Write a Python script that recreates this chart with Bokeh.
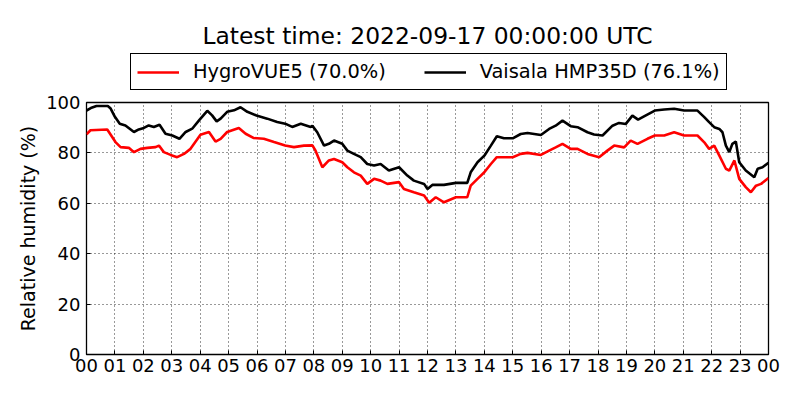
from bokeh.plotting import figure
from bokeh.layouts import column
from bokeh.models import Range1d, FixedTicker, Legend, LegendItem, Label
from bokeh.embed import file_html
from bokeh.resources import INLINE

# ---- data (hours since 2022-09-16 00:00 UTC, relative humidity %) ----
hmp_hours = [0.0, 0.15, 0.35, 0.75, 0.85, 1.0, 1.17, 1.37, 1.67, 1.84, 2.02,
             2.19, 2.37, 2.57, 2.78, 3.02, 3.27, 3.49, 3.72, 3.96, 4.25,
             4.42, 4.58, 4.72, 4.95, 5.19, 5.42, 5.66, 6.01, 6.36, 6.71,
             6.99, 7.24, 7.54, 7.89, 7.95, 8.12, 8.36, 8.53, 8.71, 9.0,
             9.18, 9.41, 9.65, 9.88, 10.12, 10.35, 10.64, 11.0, 11.29,
             11.52, 11.88, 12.0, 12.17, 12.58, 13.0, 13.40, 13.52, 13.76,
             14.0, 14.23, 14.44, 14.69, 15.0, 15.28, 15.52, 15.99, 16.28,
             16.51, 16.75, 17.04, 17.28, 17.63, 17.86, 18.16, 18.51, 18.74,
             18.98, 19.21, 19.41, 19.62, 20.0, 20.33, 20.68, 21.03, 21.5,
             21.74, 21.91, 22.09, 22.27, 22.38, 22.5, 22.62, 22.73, 22.85,
             22.97, 23.2, 23.5, 23.62, 23.79, 24.0]
hmp_rh = [96.8, 97.8, 98.6, 98.6, 97.6, 94.3, 91.6, 90.9, 88.3, 89.3, 89.9,
          90.9, 90.3, 91.2, 87.6, 86.9, 85.6, 88.3, 89.6, 92.9, 96.7,
          94.9, 92.5, 93.6, 96.3, 96.9, 98.1, 96.3, 94.7, 93.6, 92.3,
          91.6, 90.3, 91.6, 90.3, 90.8, 88.2, 82.9, 83.6, 84.9, 83.6,
          80.9, 79.6, 78.3, 75.6, 75.0, 75.6, 73.0, 74.3, 71.0,
          69.0, 67.7, 65.7, 67.3, 67.3, 68.1, 68.1, 72.3, 76.3,
          78.9, 82.9, 86.6, 85.8, 85.8, 87.5, 87.9, 87.1, 89.5,
          90.8, 92.8, 90.6, 90.2, 88.2, 87.3, 86.9, 90.8, 91.9,
          91.5, 94.8, 93.2, 94.5, 96.8, 97.2, 97.5, 96.8, 96.8,
          94.2, 92.2, 90.2, 89.5, 88.2, 82.9, 80.3, 83.6, 84.5,
          76.3, 73.0, 70.3, 73.7, 74.3, 76.1]

hv_hours = [0.0, 0.14, 0.73, 1.02, 1.2, 1.49, 1.67, 1.9, 2.14, 2.43, 2.55,
            2.72, 2.96, 3.19, 3.43, 3.66, 4.01, 4.31, 4.54, 4.72, 4.95,
            5.36, 5.6, 5.89, 6.24, 6.6, 6.99, 7.3, 7.65, 7.95, 8.06, 8.3,
            8.53, 8.71, 9.0, 9.18, 9.41, 9.65, 9.88, 10.12, 10.35, 10.59,
            11.0, 11.17, 11.52, 11.88, 12.06, 12.29, 12.58, 13.0, 13.4,
            13.52, 13.76, 14.0, 14.23, 14.44, 14.69, 15.0, 15.28, 15.52,
            15.99, 16.28, 16.51, 16.75, 17.04, 17.28, 17.63, 18.04, 18.33,
            18.57, 18.92, 19.15, 19.39, 19.74, 20.0, 20.33, 20.68, 21.03,
            21.5, 21.74, 21.91, 22.09, 22.27, 22.5, 22.62, 22.8, 22.97,
            23.2, 23.38, 23.56, 23.74, 24.0]
hv_rh = [87.4, 89.0, 89.3, 84.3, 82.3, 82.0, 80.3, 81.6, 82.0, 82.3, 82.9,
         80.3, 79.2, 78.3, 79.6, 81.6, 87.2, 88.3, 84.5, 85.6, 88.3,
         89.9, 87.6, 85.9, 85.6, 84.3, 82.9, 82.3, 82.9, 83.0, 80.9, 74.3,
         77.0, 77.6, 76.3, 74.3, 72.3, 71.0, 67.7, 69.7, 69.0, 67.7,
         68.4, 65.7, 64.4, 63.1, 60.2, 62.4, 60.4, 62.4, 62.4,
         67.0, 69.7, 72.3, 75.6, 78.3, 78.3, 78.3, 79.6, 80.0,
         79.2, 80.9, 82.2, 83.6, 81.6, 81.6, 79.6, 78.3, 80.9,
         82.9, 82.2, 84.9, 83.6, 85.6, 86.9, 86.9, 88.2, 86.9,
         86.9, 84.2, 81.6, 82.9, 78.9, 73.7, 73.0, 77.0, 69.7,
         66.4, 64.4, 67.0, 67.7, 70.0]

hour_ticks = list(range(0, 25))
hour_labels = ["%02d" % (h % 24) for h in hour_ticks]
rh_ticks = [0, 20, 40, 60, 80, 100]

title_text = "Latest time: 2022-09-17 00:00:00 UTC"
hv_name = "HygroVUE5 (%.1f%%)" % hv_rh[-1]
hmp_name = "Vaisala HMP35D (%.1f%%)" % hmp_rh[-1]

FONT = "DejaVu Sans"
RED = "#ff0000"
BLACK = "#000000"
LW = 2.6
HEAD_H = 92
LEFT = 86
RIGHT = 16

# ---------------- header: title + legend ----------------
# (its frame is aligned with the main frame by the column layout)
head = figure(width=784, height=HEAD_H, output_backend="svg",
              toolbar_location=None, x_axis_location=None,
              y_axis_location=None, x_range=Range1d(0, 1),
              y_range=Range1d(0, 1), min_border=0,
              min_border_left=LEFT, min_border_right=RIGHT)
head.outline_line_color = None
head.xgrid.visible = False
head.ygrid.visible = False
head.background_fill_color = "white"
head.border_fill_color = "white"

# legend keys: the same series, drawn far outside this header's ranges
k_hv = head.line(hv_hours, hv_rh, line_color=RED, line_width=LW)
k_hmp = head.line(hmp_hours, hmp_rh, line_color=BLACK, line_width=LW)

frame_w = 784 - LEFT - RIGHT
head.add_layout(Label(x=frame_w / 2, y=HEAD_H - 35, x_units="screen",
                      y_units="screen", text=title_text, text_font=FONT,
                      text_font_size="23.4px", text_color="black",
                      text_align="center", text_baseline="middle"))

legend = Legend(items=[LegendItem(label=hv_name, renderers=[k_hv]),
                       LegendItem(label=hmp_name, renderers=[k_hmp])],
                orientation="horizontal", location=(130 - LEFT, HEAD_H - 90))
legend.label_text_font = FONT
legend.label_text_font_size = "19.4px"
legend.label_text_color = "black"
legend.glyph_width = 42
legend.label_standoff = 14
legend.spacing = 38
legend.padding = 6
legend.margin = 0
legend.border_line_color = "black"
legend.border_line_width = 1
legend.border_line_alpha = 1
legend.background_fill_alpha = 1
legend.border_radius = 0
head.add_layout(legend, "center")

# ---------------- main chart ----------------
MAIN_H = 384 - HEAD_H
p = figure(width=784, height=MAIN_H, output_backend="svg",
           toolbar_location=None,
           x_range=Range1d(0, 24), y_range=Range1d(0, 100),
           min_border_left=LEFT, min_border_right=RIGHT,
           min_border_top=102 - HEAD_H, min_border_bottom=MAIN_H - (354 - HEAD_H))
p.background_fill_color = "white"
p.border_fill_color = "white"
p.outline_line_color = "black"
p.outline_line_width = 1.3
p.outline_line_alpha = 1.0

p.line(hv_hours, hv_rh, line_color=RED, line_width=LW)
p.line(hmp_hours, hmp_rh, line_color=BLACK, line_width=LW)

for ax in p.axis:
    ax.axis_line_color = None
    ax.major_tick_in = 4
    ax.major_tick_out = 0
    ax.minor_tick_line_color = None
    ax.major_tick_line_color = "black"
    ax.major_label_text_font = FONT
    ax.major_label_text_font_size = "18px"
    ax.major_label_text_color = "black"
    ax.axis_label_text_font = FONT
    ax.axis_label_text_font_size = "19px"
    ax.axis_label_text_font_style = "normal"
    ax.axis_label_text_color = "black"

p.xaxis.ticker = FixedTicker(ticks=hour_ticks)
p.xaxis.major_label_overrides = {t: l for t, l in zip(hour_ticks, hour_labels)}
p.xaxis.major_label_standoff = 4
p.yaxis.ticker = FixedTicker(ticks=rh_ticks)
p.yaxis.major_label_standoff = 6
p.yaxis.axis_label = "Relative humidity (%)"
p.yaxis.axis_label_standoff = 4

for g in (p.xgrid, p.ygrid):
    g.grid_line_color = "black"
    g.grid_line_dash = "1 3"
    g.grid_line_width = 1
    g.grid_line_alpha = 0.8
p.xgrid.ticker = FixedTicker(ticks=hour_ticks)
p.ygrid.ticker = FixedTicker(ticks=rh_ticks)

layout = column(head, p, spacing=0)
open("out.html", "w").write(file_html(layout, INLINE))
